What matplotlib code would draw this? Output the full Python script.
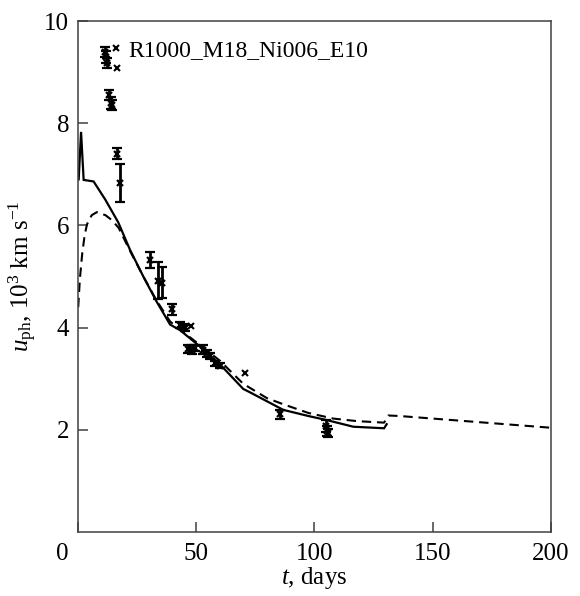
import matplotlib
matplotlib.use("Agg")
import matplotlib.pyplot as plt
from matplotlib.transforms import ScaledTranslation

plt.rcParams['font.family'] = ['Liberation Serif', 'DejaVu Serif']
plt.rcParams['mathtext.fontset'] = 'custom'
plt.rcParams['mathtext.rm'] = 'Liberation Serif'
plt.rcParams['mathtext.it'] = 'Liberation Serif:italic'

# Model curve 1 (solid)
t_solid = [0.5, 1.5, 2.6, 6.8, 11.8, 17.2, 22.2, 27.8, 33.4, 39.1, 43.3, 51.7,
           60.2, 70.0, 73.0, 86.9, 97.5, 105.3, 116.5, 129.5, 130.6]
v_solid = [6.90, 7.83, 6.89, 6.86, 6.50, 6.06, 5.52, 5.00, 4.51, 4.06, 3.95, 3.63,
           3.28, 2.80, 2.73, 2.39, 2.27, 2.19, 2.06, 2.03, 2.11]

# Model curve 2 (dashed)
t_dash = [0.3, 1.0, 2.0, 3.0, 4.0, 6.0, 8.2, 11.8, 14.6, 17.4, 22.2, 27.8, 33.4,
          39.1, 45.0, 51.7, 60.2, 70.0, 80.0, 86.9, 97.5, 108.0, 118.0, 129.5,
          131.3, 136.0, 150.0, 175.0, 200.0]
v_dash = [4.40, 4.95, 5.45, 5.80, 6.02, 6.20, 6.26, 6.20, 6.10, 5.95, 5.50, 5.00, 4.53,
          4.12, 3.90, 3.66, 3.35, 2.90, 2.62, 2.50, 2.33, 2.22, 2.17, 2.14,
          2.28, 2.27, 2.22, 2.13, 2.04]

# Observations with error bars
t_obs = [11.5, 12.0, 12.5, 13.3, 14.0, 14.5, 16.6, 18.0, 30.6, 34.0, 35.5, 39.8,
         43.5, 44.5, 45.5, 46.8, 48.2, 49.6, 53.0, 54.5, 56.0, 58.0, 60.0, 85.5,
         104.8, 105.2, 105.6]
v_obs = [9.40, 9.30, 9.18, 8.55, 8.40, 8.35, 7.40, 6.83, 5.32, 4.92, 4.88, 4.36,
         4.05, 4.02, 4.00, 3.58, 3.57, 3.60, 3.57, 3.50, 3.45, 3.30, 3.25, 2.30,
         2.08, 1.97, 1.93]
e_obs = [0.10, 0.12, 0.10, 0.10, 0.12, 0.10, 0.11, 0.37, 0.16, 0.37, 0.30, 0.11,
         0.05, 0.05, 0.06, 0.08, 0.08, 0.06, 0.08, 0.07, 0.06, 0.05, 0.05, 0.08,
         0.12, 0.10, 0.08]

# Observations without error bars
t_x = [16.3, 16.8, 48.0, 70.7]
v_x = [9.47, 9.08, 4.04, 3.12]

model_label = "R1000_M18_Ni006_E10"
x_ticks = [0, 50, 100, 150, 200]
y_ticks = [2, 4, 6, 8, 10]

fig = plt.figure(figsize=(5.8, 5.96), dpi=100)
ax = fig.add_axes([77.5 / 580, 64 / 596, (551 - 77.5) / 580, (532 - 21) / 596])

ax.plot(t_solid, v_solid, color='black', lw=1.6, solid_joinstyle='miter')
ax.plot(t_dash, v_dash, color='black', lw=1.5, linestyle=(0, (4.5, 2.8)))
ax.errorbar(t_obs, v_obs, yerr=e_obs, fmt='x', color='black', ms=5, mew=1.6,
            elinewidth=2.0, capsize=3.3, capthick=2.0)
ax.plot(t_x, v_x, 'x', color='black', ms=5, mew=1.5)

ax.text(21.3, 9.42, model_label, fontsize=17, ha='left', va='center')

ax.set_xlim(0, 200)
ax.set_ylim(0, 10)
ax.set_xticks(x_ticks)
ax.set_yticks(y_ticks)
ax.tick_params(direction='in', length=7, width=1.1, labelsize=18, colors='black')
ax.tick_params(axis='x', pad=8)
ax.tick_params(axis='y', pad=6)
for s in ax.spines.values():
    s.set_linewidth(1.1)
    s.set_color('#404040')
ax.tick_params(color='#404040')

ax.set_xlabel(r'$t$, days', fontsize=18, labelpad=0)
ax.set_ylabel(r'$u_{\mathrm{ph}}$, 10$^3$ km s$^{-1}$', fontsize=18, labelpad=4)

# shift the corner "0" label to the left, as in the reference
lab0 = ax.get_xticklabels()[0]
lab0.set_transform(lab0.get_transform() + ScaledTranslation(-0.155, 0, fig.dpi_scale_trans))

fig.savefig('out.png', dpi=100)
